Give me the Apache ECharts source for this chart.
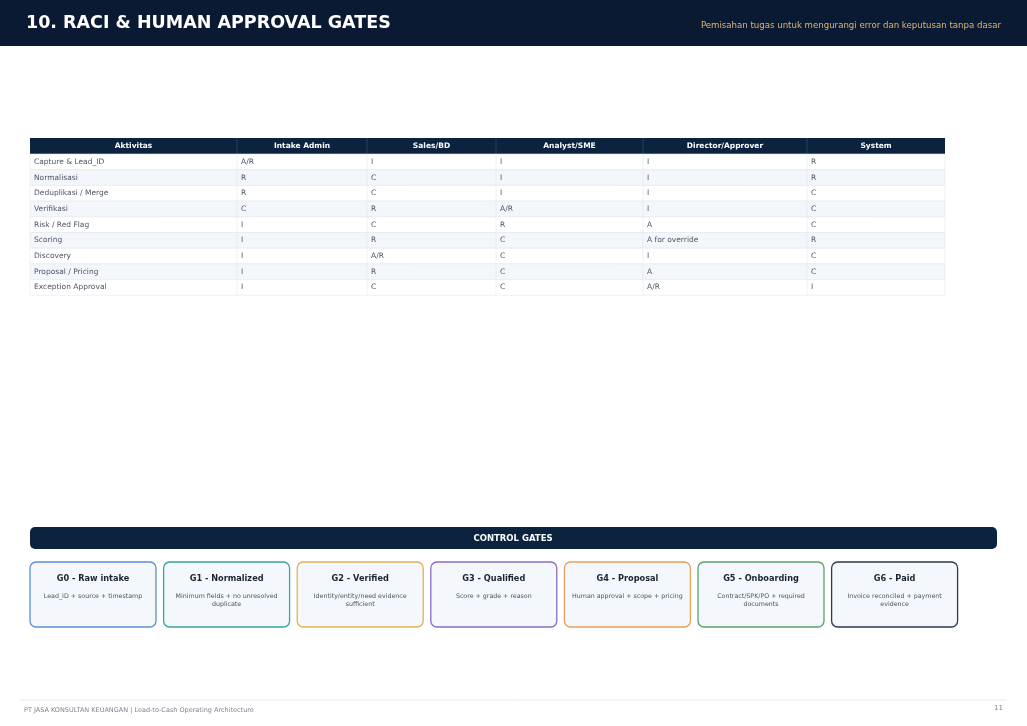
<!DOCTYPE html>
<html><head><meta charset="utf-8">
<script src="https://cdn.jsdelivr.net/npm/echarts@6/dist/echarts.min.js"></script>
<style>html,body{margin:0;padding:0;background:#fff}#c{width:1027px;height:726px}</style>
</head><body><div id="c"></div>
<script>
const columns = ['Aktivitas', 'Intake Admin', 'Sales/BD', 'Analyst/SME', 'Director/Approver', 'System'];
const activities = ['Capture & Lead_ID', 'Normalisasi', 'Deduplikasi / Merge', 'Verifikasi', 'Risk / Red Flag', 'Scoring', 'Discovery', 'Proposal / Pricing', 'Exception Approval'];
const intakeAdmin = ['A/R', 'R', 'R', 'C', 'I', 'I', 'I', 'I', 'I'];
const salesBD = ['I', 'C', 'C', 'R', 'C', 'R', 'A/R', 'R', 'C'];
const analystSME = ['I', 'I', 'I', 'A/R', 'R', 'C', 'C', 'C', 'C'];
const directorApprover = ['I', 'I', 'I', 'I', 'A', 'A for override', 'I', 'A', 'A/R'];
const system = ['R', 'R', 'C', 'C', 'C', 'R', 'C', 'C', 'I'];
const gateTitles = ['G0 - Raw intake', 'G1 - Normalized', 'G2 - Verified', 'G3 - Qualified', 'G4 - Proposal', 'G5 - Onboarding', 'G6 - Paid'];
const gateDescs = ['Lead_ID + source + timestamp', 'Minimum fields + no unresolved\nduplicate', 'Identity/entity/need evidence\nsufficient', 'Score + grade + reason', 'Human approval + scope + pricing', 'Contract/SPK/PO + required\ndocuments', 'Invoice reconciled + payment\nevidence'];
const gateColors = ['#5b8fd6', '#3aa39a', '#e0b44f', '#8a6cc4', '#e8a05a', '#5aa06f', '#2d3a52'];

const font = 'DejaVu Sans';
const navy = '#0c2340';
const colX = [30, 237, 367, 496, 643, 807, 945];
const tableTop = 138, headH = 16, rowH = 15.7;
const rowCols = [activities, intakeAdmin, salesBD, analystSME, directorApprover, system];

const g = [];
// header bar
g.push({type: 'rect', shape: {x: 0, y: 0, width: 1027, height: 46}, style: {fill: '#0b1a33'}});
g.push({type: 'text', x: 26, y: 23, style: {text: '10. RACI & HUMAN APPROVAL GATES', fill: '#fff', font: 'bold 17.5px ' + font, textVerticalAlign: 'middle'}});
g.push({type: 'text', x: 1001, y: 26, style: {text: 'Pemisahan tugas untuk mengurangi error dan keputusan tanpa dasar', fill: '#e0b66b', font: '8.6px ' + font, textAlign: 'right', textVerticalAlign: 'middle'}});

// table header
g.push({type: 'rect', shape: {x: colX[0], y: tableTop, width: colX[6] - colX[0], height: headH}, style: {fill: navy}});
columns.forEach((c, i) => {
  if (i > 0) g.push({type: 'line', shape: {x1: colX[i], y1: tableTop, x2: colX[i], y2: tableTop + headH}, style: {stroke: '#3a5170', lineWidth: 0.6}});
  g.push({type: 'text', x: (colX[i] + colX[i + 1]) / 2, y: tableTop + headH / 2, style: {text: c, fill: '#fff', font: 'bold 7.5px ' + font, textAlign: 'center', textVerticalAlign: 'middle'}});
});
// rows
activities.forEach((a, r) => {
  const y = tableTop + headH + r * rowH;
  g.push({type: 'rect', shape: {x: colX[0], y: y, width: colX[6] - colX[0], height: rowH}, style: {fill: r % 2 ? '#f3f6fa' : '#fff', stroke: '#e3e8ef', lineWidth: 0.6}});
  for (let i = 0; i < 6; i++) {
    if (i > 0) g.push({type: 'line', shape: {x1: colX[i], y1: y, x2: colX[i], y2: y + rowH}, style: {stroke: '#e3e8ef', lineWidth: 0.6}});
    g.push({type: 'text', x: colX[i] + 4, y: y + rowH / 2, style: {text: rowCols[i][r], fill: '#4a5566', font: '7.5px ' + font, textVerticalAlign: 'middle'}});
  }
});

// control gates bar
g.push({type: 'rect', shape: {x: 30, y: 527, width: 967, height: 22, r: 5}, style: {fill: navy}});
g.push({type: 'text', x: 513, y: 539, style: {text: 'CONTROL GATES', fill: '#fff', font: 'bold 8.5px ' + font, textAlign: 'center', textVerticalAlign: 'middle'}});
gateTitles.forEach((t, i) => {
  const x = 30 + i * 133.6;
  g.push({type: 'rect', shape: {x: x, y: 562, width: 126, height: 65, r: 6}, style: {fill: '#f4f7fb', stroke: gateColors[i], lineWidth: 1.3}});
  g.push({type: 'text', x: x + 63, y: 579, style: {text: t, fill: '#1b2333', font: 'bold 8.2px ' + font, textAlign: 'center', textVerticalAlign: 'middle'}});
  g.push({type: 'text', x: x + 63, y: 592, style: {text: gateDescs[i], fill: '#4a5566', font: '6.3px ' + font, textAlign: 'center', textVerticalAlign: 'top', lineHeight: 8}});
});

// footer
g.push({type: 'line', shape: {x1: 20, y1: 700, x2: 1007, y2: 700}, style: {stroke: '#e6e9ee', lineWidth: 1}});
g.push({type: 'text', x: 24, y: 710, style: {text: 'PT JASA KONSULTAN KEUANGAN | Lead-to-Cash Operating Architecture', fill: '#7a8494', font: '6.5px ' + font, textVerticalAlign: 'middle'}});
g.push({type: 'text', x: 1003, y: 708, style: {text: '11', fill: '#7a8494', font: '7px ' + font, textAlign: 'right', textVerticalAlign: 'middle'}});

const chart = echarts.init(document.getElementById('c'));
chart.setOption({animation: false, graphic: {elements: g}});
</script></body></html>
